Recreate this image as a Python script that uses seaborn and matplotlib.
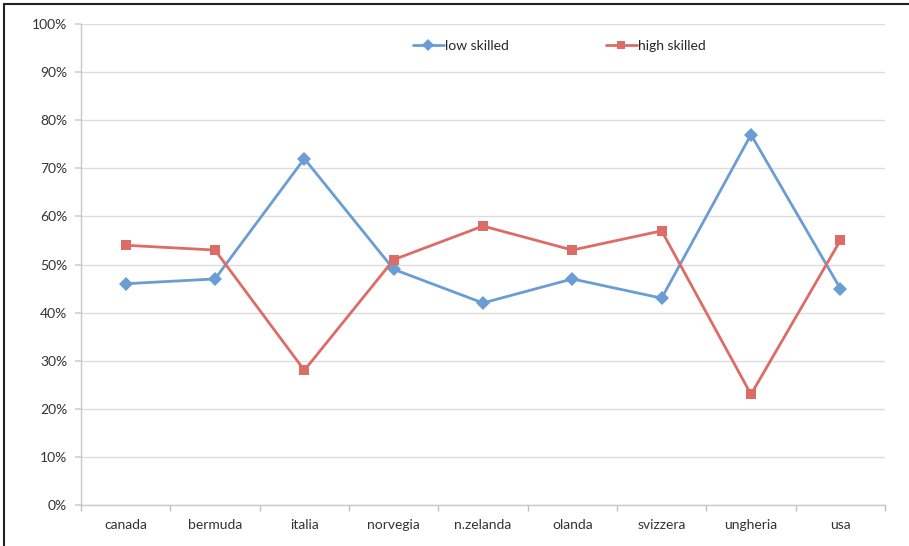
import numpy as np
import pandas as pd
import matplotlib
matplotlib.use("Agg")
import matplotlib.pyplot as plt
from matplotlib.lines import Line2D
import seaborn as sns

countries = ["canada", "bermuda", "italia", "norvegia", "n.zelanda",
             "olanda", "svizzera", "ungheria", "usa"]
low_skilled = [46, 47, 72, 49, 42, 47, 43, 77, 45]
high_skilled = [54, 53, 28, 51, 58, 53, 57, 23, 55]
series_names = ["low skilled", "high skilled"]

df = pd.DataFrame({
    "country": countries * 2,
    "pos": list(range(len(countries))) * 2,
    "value": low_skilled + high_skilled,
    "series": [series_names[0]] * len(countries) + [series_names[1]] * len(countries),
})

sns.set_theme(style="white")
plt.rcParams["font.family"] = ["Lato", "DejaVu Sans"]

fig = plt.figure(figsize=(9.09, 5.46), dpi=100)
ax = fig.add_axes([81 / 909, 1 - 505 / 546, 804 / 909, 481 / 546])

palette = {"low skilled": "#6A9DD3", "high skilled": "#DD6B66"}
markers = {"low skilled": "D", "high skilled": "s"}
sns.lineplot(data=df, x="pos", y="value", hue="series", style="series",
             markers=markers, dashes=False, palette=palette, ax=ax,
             linewidth=2, markersize=7, markeredgewidth=0)

# Excel-like axes
ax.set_ylim(0, 100)
ax.set_xlim(-0.5, len(countries) - 0.5)
ax.set_yticks(range(0, 101, 10))
ax.set_yticklabels([f"{v}%" for v in range(0, 101, 10)])
ax.set_xticks(range(len(countries)))
ax.set_xticklabels(countries)
ax.set_xticks(np.arange(-0.5, len(countries), 1), minor=True)
ax.tick_params(axis="x", which="major", length=0, pad=10, labelsize=10, colors="#333333")
ax.tick_params(axis="x", which="minor", length=4, color="#bfbfbf", direction="out", bottom=True)
ax.tick_params(axis="y", length=4, color="#d0d0d0", direction="out", left=True, pad=6,
               labelsize=10, labelcolor="#333333")
ax.grid(axis="y", color="#dcdcdc", linewidth=1)
ax.set_axisbelow(True)
for side in ["top", "right"]:
    ax.spines[side].set_visible(False)
for side in ["left", "bottom"]:
    ax.spines[side].set_color("#c8c8c8")
    ax.spines[side].set_linewidth(1)
ax.set_xlabel("")
ax.set_ylabel("")

ax.legend(loc="center", bbox_to_anchor=(0.595, 0.955), ncol=2, frameon=False,
          fontsize=10, handlelength=2.2, columnspacing=7, handletextpad=0.1,
          markerscale=0.85)

# outer frame (left and top visible, rest clipped)
fig.add_artist(Line2D([4 / 909, 4 / 909], [0, 1 - 4 / 546], color="#222222", lw=1.5,
                      transform=fig.transFigure))
fig.add_artist(Line2D([4 / 909, 1], [1 - 4 / 546, 1 - 4 / 546], color="#222222", lw=1.5,
                      transform=fig.transFigure))

fig.savefig("out.png", dpi=100)
